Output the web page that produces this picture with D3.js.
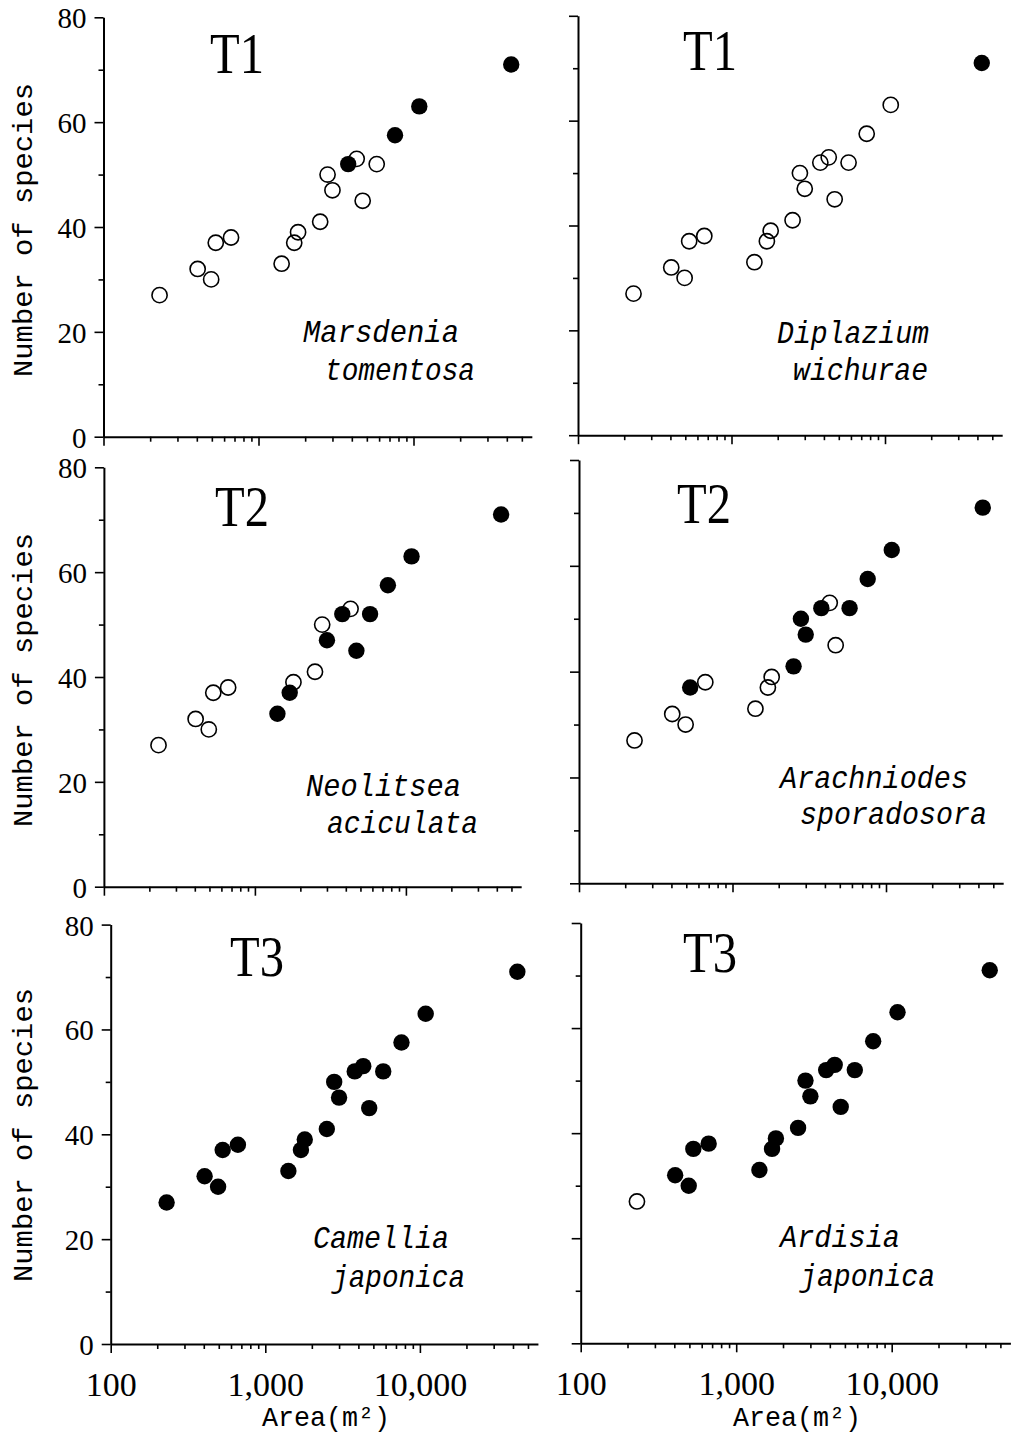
<!DOCTYPE html>
<html><head><meta charset="utf-8">
<script src="https://cdn.jsdelivr.net/npm/d3@7"></script>
<style>body{margin:0;background:#fff}</style>
</head><body>
<svg id="c" width="1013" height="1436"></svg>
<script>
// ---- data ----
const areas   = [230, 405, 495, 530, 665, 1410, 1700, 1800, 2500, 2790, 3000, 3790, 4300, 4700, 5790, 7600, 10900, 42700];
const species = [27, 32, 30, 37, 38, 33, 37, 39, 41, 50, 47, 52, 53, 45, 52, 57.5, 63, 71];
const panelTitles = ["T1", "T1", "T2", "T2", "T3", "T3"];
const speciesNames = [["Marsdenia","tomentosa"],["Diplazium","wichurae"],["Neolitsea","aciculata"],["Arachniodes","sporadosora"],["Camellia","japonica"],["Ardisia","japonica"]];
// 1 = filled circle (species present), 0 = open circle
const presence = [
  [0,0,0,0,0,0,0,0,0,0,0,1,0,0,0,1,1,1],
  [0,0,0,0,0,0,0,0,0,0,0,0,0,0,0,0,0,1],
  [0,0,0,0,0,1,1,0,0,0,1,1,0,1,1,1,1,1],
  [0,0,0,1,0,0,0,0,1,1,1,1,0,0,1,1,1,1],
  [1,1,1,1,1,1,1,1,1,1,1,1,1,1,1,1,1,1],
  [0,1,1,1,1,1,1,1,1,1,1,1,1,1,1,1,1,1]
];
const yTicks = [0, 20, 40, 60, 80];
const yMinor = [10, 30, 50, 70];
const xTicks = [100, 1000, 10000];
const xTickLabels = ["100", "1,000", "10,000"];
const xMinor = [200,300,400,500,600,700,800,900,2000,3000,4000,5000,6000,7000,8000,9000,20000,30000,40000,50000];
const xMax = 58000;
const yTitle = "Number of species";
const xTitle = "Area(m²)";

// ---- layout (pixel placement of each panel) ----
const layout = [
  {x100:103.5, dec:155,   y0:436.7,  y80:17.3,
   title:[210,73], names:[[303,342,156],[325,380,150]], yTitleY:230},
  {x100:578,   dec:153.5, y0:435.2,  y80:15.8,
   title:[683,70], names:[[777,343,152],[793,380,135]]},
  {x100:103.9, dec:151,   y0:886.7,  y80:467.3,
   title:[215,526], names:[[306,796,155],[327,833,151]], yTitleY:680},
  {x100:579,   dec:153.5, y0:883.3,  y80:460,
   title:[677,523], names:[[780,788,188],[800,824,187]]},
  {x100:110.7, dec:154.6, y0:1344,   y80:924.6,
   title:[230,976], names:[[313,1248,136],[332,1287,133]], yTitleY:1135, xTitleX:326},
  {x100:580.7, dec:155.5, y0:1343.3, y80:923,
   title:[683,972], names:[[780,1247,120],[800,1286,135]], xTitleX:797}
];

const svg = d3.select("#c");
const serif = "'Liberation Serif', 'Times New Roman', serif";
const mono = "'Liberation Mono', 'DejaVu Sans Mono', monospace";

layout.forEach((L, i) => {
  const isLeft = i % 2 === 0, isBottom = i >= 4;
  const x = d3.scaleLog().domain([100, xMax]).range([L.x100, L.x100 + L.dec * Math.log10(xMax / 100)]);
  const y = d3.scaleLinear().domain([0, 80]).range([L.y0, L.y80]);
  const g = svg.append("g");

  // x axis
  const gxm = g.append("g").attr("transform", `translate(0,${L.y0})`)
    .call(d3.axisBottom(x).tickValues(xMinor).tickSize(5).tickSizeOuter(0).tickFormat(""));
  gxm.select(".domain").remove();
  const gx = g.append("g").attr("transform", `translate(0,${L.y0})`)
    .call(d3.axisBottom(x).tickValues(xTicks).tickSize(9).tickSizeOuter(0)
      .tickFormat((d, j) => isBottom ? xTickLabels[j] : ""));
  gx.selectAll("text").attr("y", 52).attr("dy", null)
    .attr("font-family", serif).attr("font-size", 34).attr("fill", "#000");

  // y axis
  const gym = g.append("g").attr("transform", `translate(${L.x100},0)`)
    .call(d3.axisLeft(y).tickValues(yMinor).tickSize(5).tickSizeOuter(0).tickFormat(""));
  gym.select(".domain").remove();
  const gy = g.append("g").attr("transform", `translate(${L.x100},0)`)
    .call(d3.axisLeft(y).tickValues(yTicks).tickSize(9).tickSizeOuter(0)
      .tickFormat(d => isLeft ? d : ""));
  gy.selectAll("text").attr("x", -17).attr("dy", "0.36em")
    .attr("font-family", serif).attr("font-size", 29).attr("fill", "#000");

  g.selectAll(".domain").attr("stroke", "#000").attr("stroke-width", 2);
  g.selectAll(".tick line").attr("stroke", "#000").attr("stroke-width", 1.6);

  // points
  const pts = areas.map((a, k) => ({a, s: species[k], f: presence[i][k]}));
  g.selectAll("circle.open").data(pts.filter(p => !p.f)).join("circle")
    .attr("class", "open")
    .attr("cx", p => x(p.a)).attr("cy", p => y(p.s)).attr("r", 7.6)
    .attr("fill", "none").attr("stroke", "#000").attr("stroke-width", 1.6);
  g.selectAll("circle.fill").data(pts.filter(p => p.f)).join("circle")
    .attr("class", "fill")
    .attr("cx", p => x(p.a)).attr("cy", p => y(p.s)).attr("r", 8.2)
    .attr("fill", "#000");

  // panel title
  g.append("text").attr("x", L.title[0]).attr("y", L.title[1])
    .attr("font-family", serif).attr("font-size", 58)
    .attr("textLength", 54).attr("lengthAdjust", "spacingAndGlyphs")
    .text(panelTitles[i]);

  // species name
  speciesNames[i].forEach((nm, j) => {
    const [nx, ny, len] = L.names[j];
    g.append("text").attr("x", nx).attr("y", ny)
      .attr("font-family", mono).attr("font-style", "italic").attr("font-size", 32)
      .attr("textLength", len).attr("lengthAdjust", "spacingAndGlyphs")
      .text(nm);
  });

  if (isLeft) {
    g.append("text").attr("transform", `translate(32,${L.yTitleY}) rotate(-90)`)
      .attr("text-anchor", "middle").attr("font-family", mono).attr("font-size", 28)
      .attr("textLength", 294).attr("lengthAdjust", "spacingAndGlyphs")
      .text(yTitle);
  }
  if (isBottom) {
    g.append("text").attr("x", L.xTitleX).attr("y", 1426)
      .attr("text-anchor", "middle").attr("font-family", mono).attr("font-size", 28)
      .attr("textLength", 128).attr("lengthAdjust", "spacingAndGlyphs")
      .text(xTitle);
  }
});
</script>
</body></html>
